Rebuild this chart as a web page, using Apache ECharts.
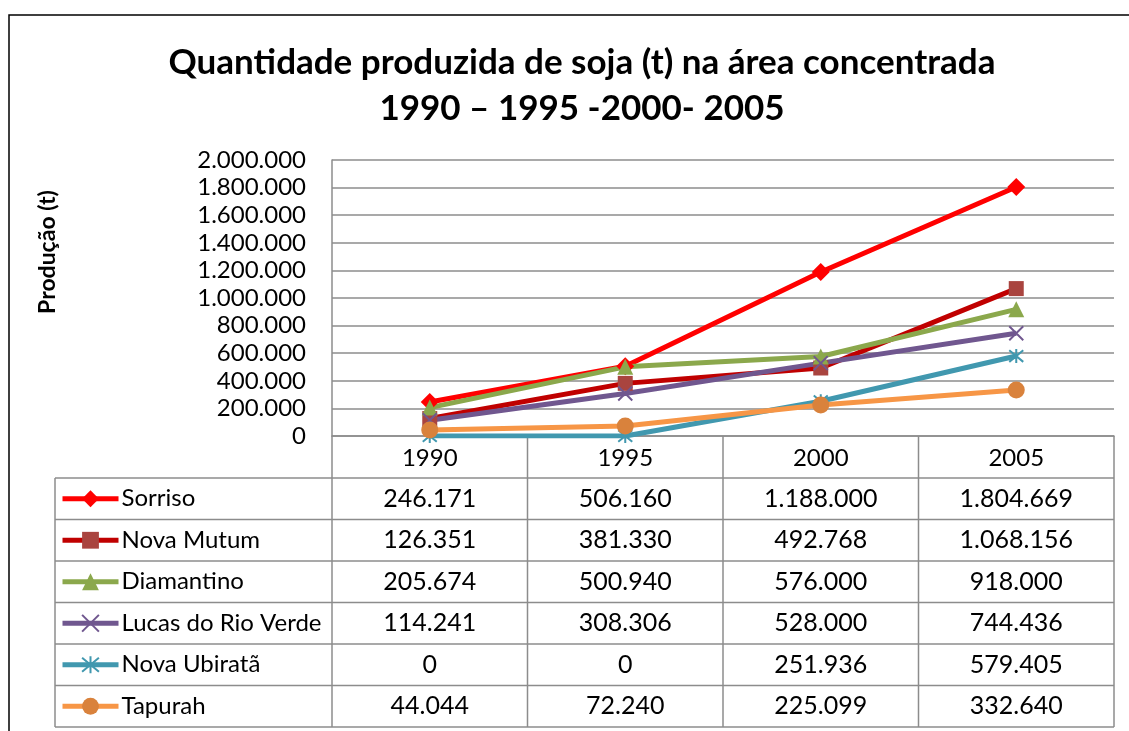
<!DOCTYPE html>
<html>
<head>
<meta charset="utf-8">
<script src="https://cdn.jsdelivr.net/npm/echarts@6/dist/echarts.min.js"></script>
<style>
  html, body { margin: 0; padding: 0; background: #fff; }
  #main { width: 1129px; height: 731px; }
</style>
</head>
<body>
<div id="main"></div>
<script>
// dados da tabela
var anos = ['1990', '1995', '2000', '2005'];
var municipios = ['Sorriso', 'Nova Mutum', 'Diamantino', 'Lucas do Rio Verde', 'Nova Ubiratã', 'Tapurah'];
var sorriso = [246171, 506160, 1188000, 1804669];
var novaMutum = [126351, 381330, 492768, 1068156];
var diamantino = [205674, 500940, 576000, 918000];
var lucas = [114241, 308306, 528000, 744436];
var novaUbirata = [0, 0, 251936, 579405];
var tapurah = [44044, 72240, 225099, 332640];
var valores = [sorriso, novaMutum, diamantino, lucas, novaUbirata, tapurah];

// estilos de cada serie
var corLinha = ['#FF0000', '#C00000', '#8BA84C', '#70578F', '#4198AF', '#F79646'];
var corMarca = ['#FF0000', '#A9443F', '#8BA84C', '#70578F', '#4198AF', '#D9823C'];
var simbolos = ['diamond', 'rect', 'triangle',
    'path://M0,0L10,10M10,0L0,10',
    'path://M0,0L10,10M10,0L0,10M5,-1L5,11',
    'circle'];
var tamanhos = [18, 15, 16, 14, 14, 17];

var fonte = 'Lato';
var cinza = '#8C8C8C';

// geometria do grafico / tabela
var gLeft = 332, gRight = 1114, gTop = 160, gBottom = 436;
var tabLeft = 55, rowTop = 478, rowH = 41.5;

function fmt(v) {
    return String(v).replace(/\B(?=(\d{3})+(?!\d))/g, '.');
}

var chart = echarts.init(document.getElementById('main'));

var series = [];
var legends = [];
for (var i = 0; i < municipios.length; i++) {
    var path = simbolos[i].indexOf('path://') === 0;
    series.push({
        name: municipios[i],
        type: 'line',
        data: valores[i],
        symbol: simbolos[i],
        symbolSize: tamanhos[i],
        lineStyle: { color: corLinha[i], width: 5 },
        itemStyle: path
            ? { color: corMarca[i], borderColor: corMarca[i], borderWidth: 2 }
            : { color: corMarca[i] },
        animation: false
    });
    legends.push({
        data: [municipios[i]],
        left: 60,
        top: rowTop + rowH * i + rowH / 2 - 12,
        padding: 0,
        itemWidth: 56,
        itemHeight: 21,
        selectedMode: false,
        lineStyle: { width: 5 },
        itemStyle: path ? { borderWidth: 2 } : {},
        textStyle: { fontFamily: fonte, fontSize: 24, color: '#000', lineHeight: 24, padding: [0, 0, 0, -2] }
    });
}

var option = {
    backgroundColor: '#fff',
    animation: false,
    title: {
        text: 'Quantidade produzida de soja (t) na área concentrada\n1990 – 1995 -2000- 2005',
        left: 577,
        textAlign: 'center',
        top: 35,
        textStyle: {
            fontFamily: fonte, fontWeight: 'bold', fontSize: 35,
            color: '#000', lineHeight: 46
        }
    },
    legend: legends,
    grid: {
        left: gLeft, right: 1129 - gRight, top: gTop, bottom: 731 - gBottom,
        containLabel: false
    },
    xAxis: {
        type: 'category',
        data: anos,
        boundaryGap: true,
        axisLine: { show: true, lineStyle: { color: cinza, width: 1.5 } },
        axisTick: { show: false },
        axisLabel: { fontFamily: fonte, fontSize: 24, color: '#000', margin: 10 }
    },
    yAxis: {
        type: 'value',
        min: 0,
        max: 2000000,
        interval: 200000,
        axisLine: { show: true, lineStyle: { color: cinza, width: 1.5 } },
        axisTick: { show: false },
        splitLine: { lineStyle: { color: cinza, width: 1.5 } },
        axisLabel: {
            fontFamily: fonte, fontSize: 24, color: '#000', margin: 26,
            formatter: function (v) { return fmt(v); }
        }
    },
    series: series
};
chart.setOption(option);

// tabela de dados abaixo do grafico
function desenhaTabela() {
    var els = [];
    // moldura externa do grafico
    els.push({
        type: 'rect', shape: { x: 9, y: 15, width: 1300, height: 900 },
        style: { fill: null, stroke: '#000', lineWidth: 1.5 }, silent: true
    });
    // titulo do eixo vertical
    els.push({
        type: 'text', x: 48, y: 252, rotation: Math.PI / 2,
        style: {
            text: 'Produção (t)', fill: '#000', font: 'bold 23px ' + fonte,
            align: 'center', verticalAlign: 'middle'
        },
        silent: true
    });
    var rowBottom = rowTop + rowH * municipios.length;
    // linhas horizontais
    for (var r = 0; r <= municipios.length; r++) {
        var y = rowTop + rowH * r;
        els.push({
            type: 'line', shape: { x1: tabLeft, y1: y, x2: gRight, y2: y },
            style: { stroke: cinza, lineWidth: 1.5 }, silent: true
        });
    }
    // linhas verticais (limites das categorias)
    var half = (chart.convertToPixel({ xAxisIndex: 0 }, anos[1]) -
                chart.convertToPixel({ xAxisIndex: 0 }, anos[0])) / 2;
    var bordas = [];
    for (var c = 0; c < anos.length; c++) {
        bordas.push(chart.convertToPixel({ xAxisIndex: 0 }, anos[c]) - half);
    }
    bordas.push(chart.convertToPixel({ xAxisIndex: 0 }, anos[anos.length - 1]) + half);
    bordas.forEach(function (x) {
        els.push({
            type: 'line', shape: { x1: x, y1: gBottom, x2: x, y2: rowBottom },
            style: { stroke: cinza, lineWidth: 1.5 }, silent: true
        });
    });
    els.push({
        type: 'line', shape: { x1: tabLeft, y1: rowTop, x2: tabLeft, y2: rowBottom },
        style: { stroke: cinza, lineWidth: 1.5 }, silent: true
    });
    // valores
    for (var i = 0; i < municipios.length; i++) {
        for (var j = 0; j < anos.length; j++) {
            els.push({
                type: 'text',
                x: chart.convertToPixel({ xAxisIndex: 0 }, anos[j]),
                y: rowTop + rowH * i + rowH / 2,
                style: {
                    text: fmt(valores[i][j]), fill: '#000',
                    font: '25px ' + fonte, align: 'center', verticalAlign: 'middle'
                },
                silent: true
            });
        }
    }
    chart.setOption({ graphic: { elements: els } });
}
desenhaTabela();
</script>
</body>
</html>
